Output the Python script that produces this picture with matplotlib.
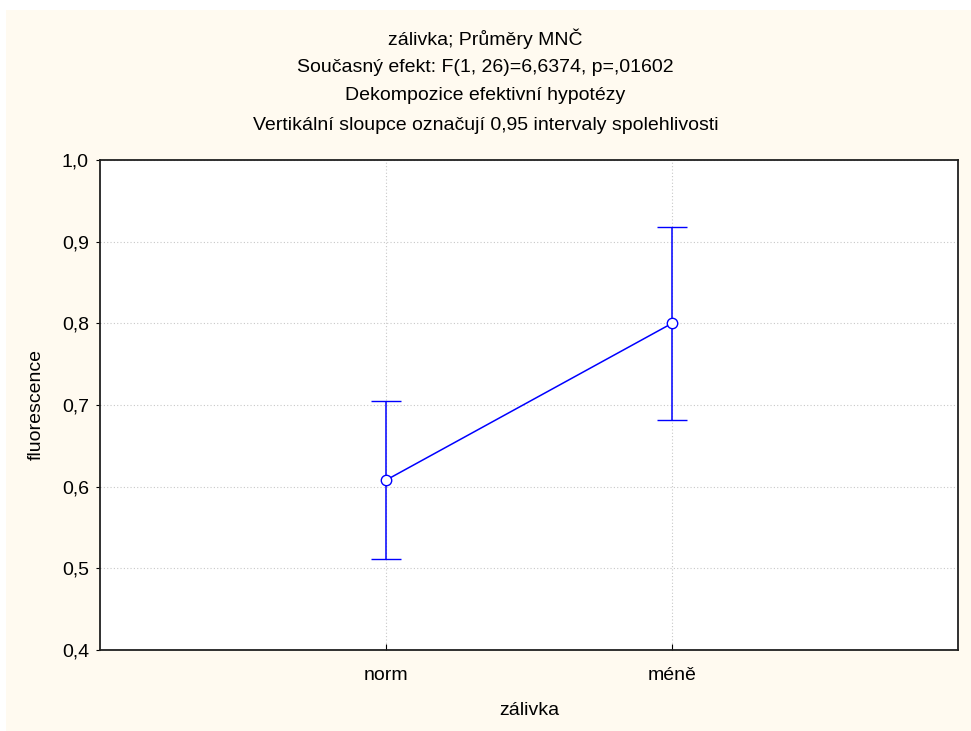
import matplotlib.pyplot as plt
from matplotlib.patches import Rectangle
from matplotlib.ticker import FuncFormatter

plt.rcParams['font.family'] = ['Liberation Sans', 'DejaVu Sans']

# data
groups = ["norm", "méně"]
means = [0.608, 0.800]
upper = [0.705, 0.918]
lower = [0.512, 0.682]
titles = ["zálivka; Průměry MNČ",
          "Současný efekt: F(1, 26)=6,6374, p=,01602",
          "Dekompozice efektivní hypotézy",
          "Vertikální sloupce označují 0,95 intervaly spolehlivosti"]

xpos = [i + 1 for i in range(len(groups))]
err = [[m - lo for m, lo in zip(means, lower)], [up - m for m, up in zip(means, upper)]]

fig = plt.figure(figsize=(9.71, 7.31), dpi=100, facecolor='white')
fig.patches.append(Rectangle((6 / 971, 0), 1, 1 - 10 / 731, transform=fig.transFigure,
                             facecolor='#fffaf0', edgecolor='none', zorder=-10))

ax = fig.add_axes([100 / 971, 81 / 731, 858 / 971, 490 / 731])
ax.set_facecolor('white')

ax.errorbar(xpos, means, yerr=err, color='#0000ff', lw=1.1, capsize=11, capthick=1.1,
            marker='o', markersize=7.5, markerfacecolor='white', markeredgecolor='#0000ff',
            markeredgewidth=1.0, zorder=3)

ax.set_xlim(0, 3)
ax.set_ylim(0.4, 1.0)
ax.set_xticks(xpos)
ax.set_xticklabels(groups)
ax.set_yticks([0.4, 0.5, 0.6, 0.7, 0.8, 0.9, 1.0])
ax.yaxis.set_major_formatter(FuncFormatter(lambda v, p: f"{v:.1f}".replace('.', ',')))
ax.grid(True, color='#c8c8c8', linestyle=(0, (1, 2)), linewidth=0.8)
ax.tick_params(axis='x', direction='in', length=4, pad=12, labelsize=14)
ax.tick_params(axis='y', direction='out', length=3, pad=5, labelsize=14)
for s in ax.spines.values():
    s.set_linewidth(1.3)
    s.set_color('#202020')

ax.set_xlabel("zálivka", fontsize=14, labelpad=13)
ax.set_ylabel("fluorescence", fontsize=14, labelpad=12)

for i, y in enumerate([39, 68, 96, 125]):
    fig.text(0.5, 1 - y / 731, titles[i], ha='center', va='center', fontsize=14)

fig.savefig("out.png", dpi=100, facecolor=fig.get_facecolor())
